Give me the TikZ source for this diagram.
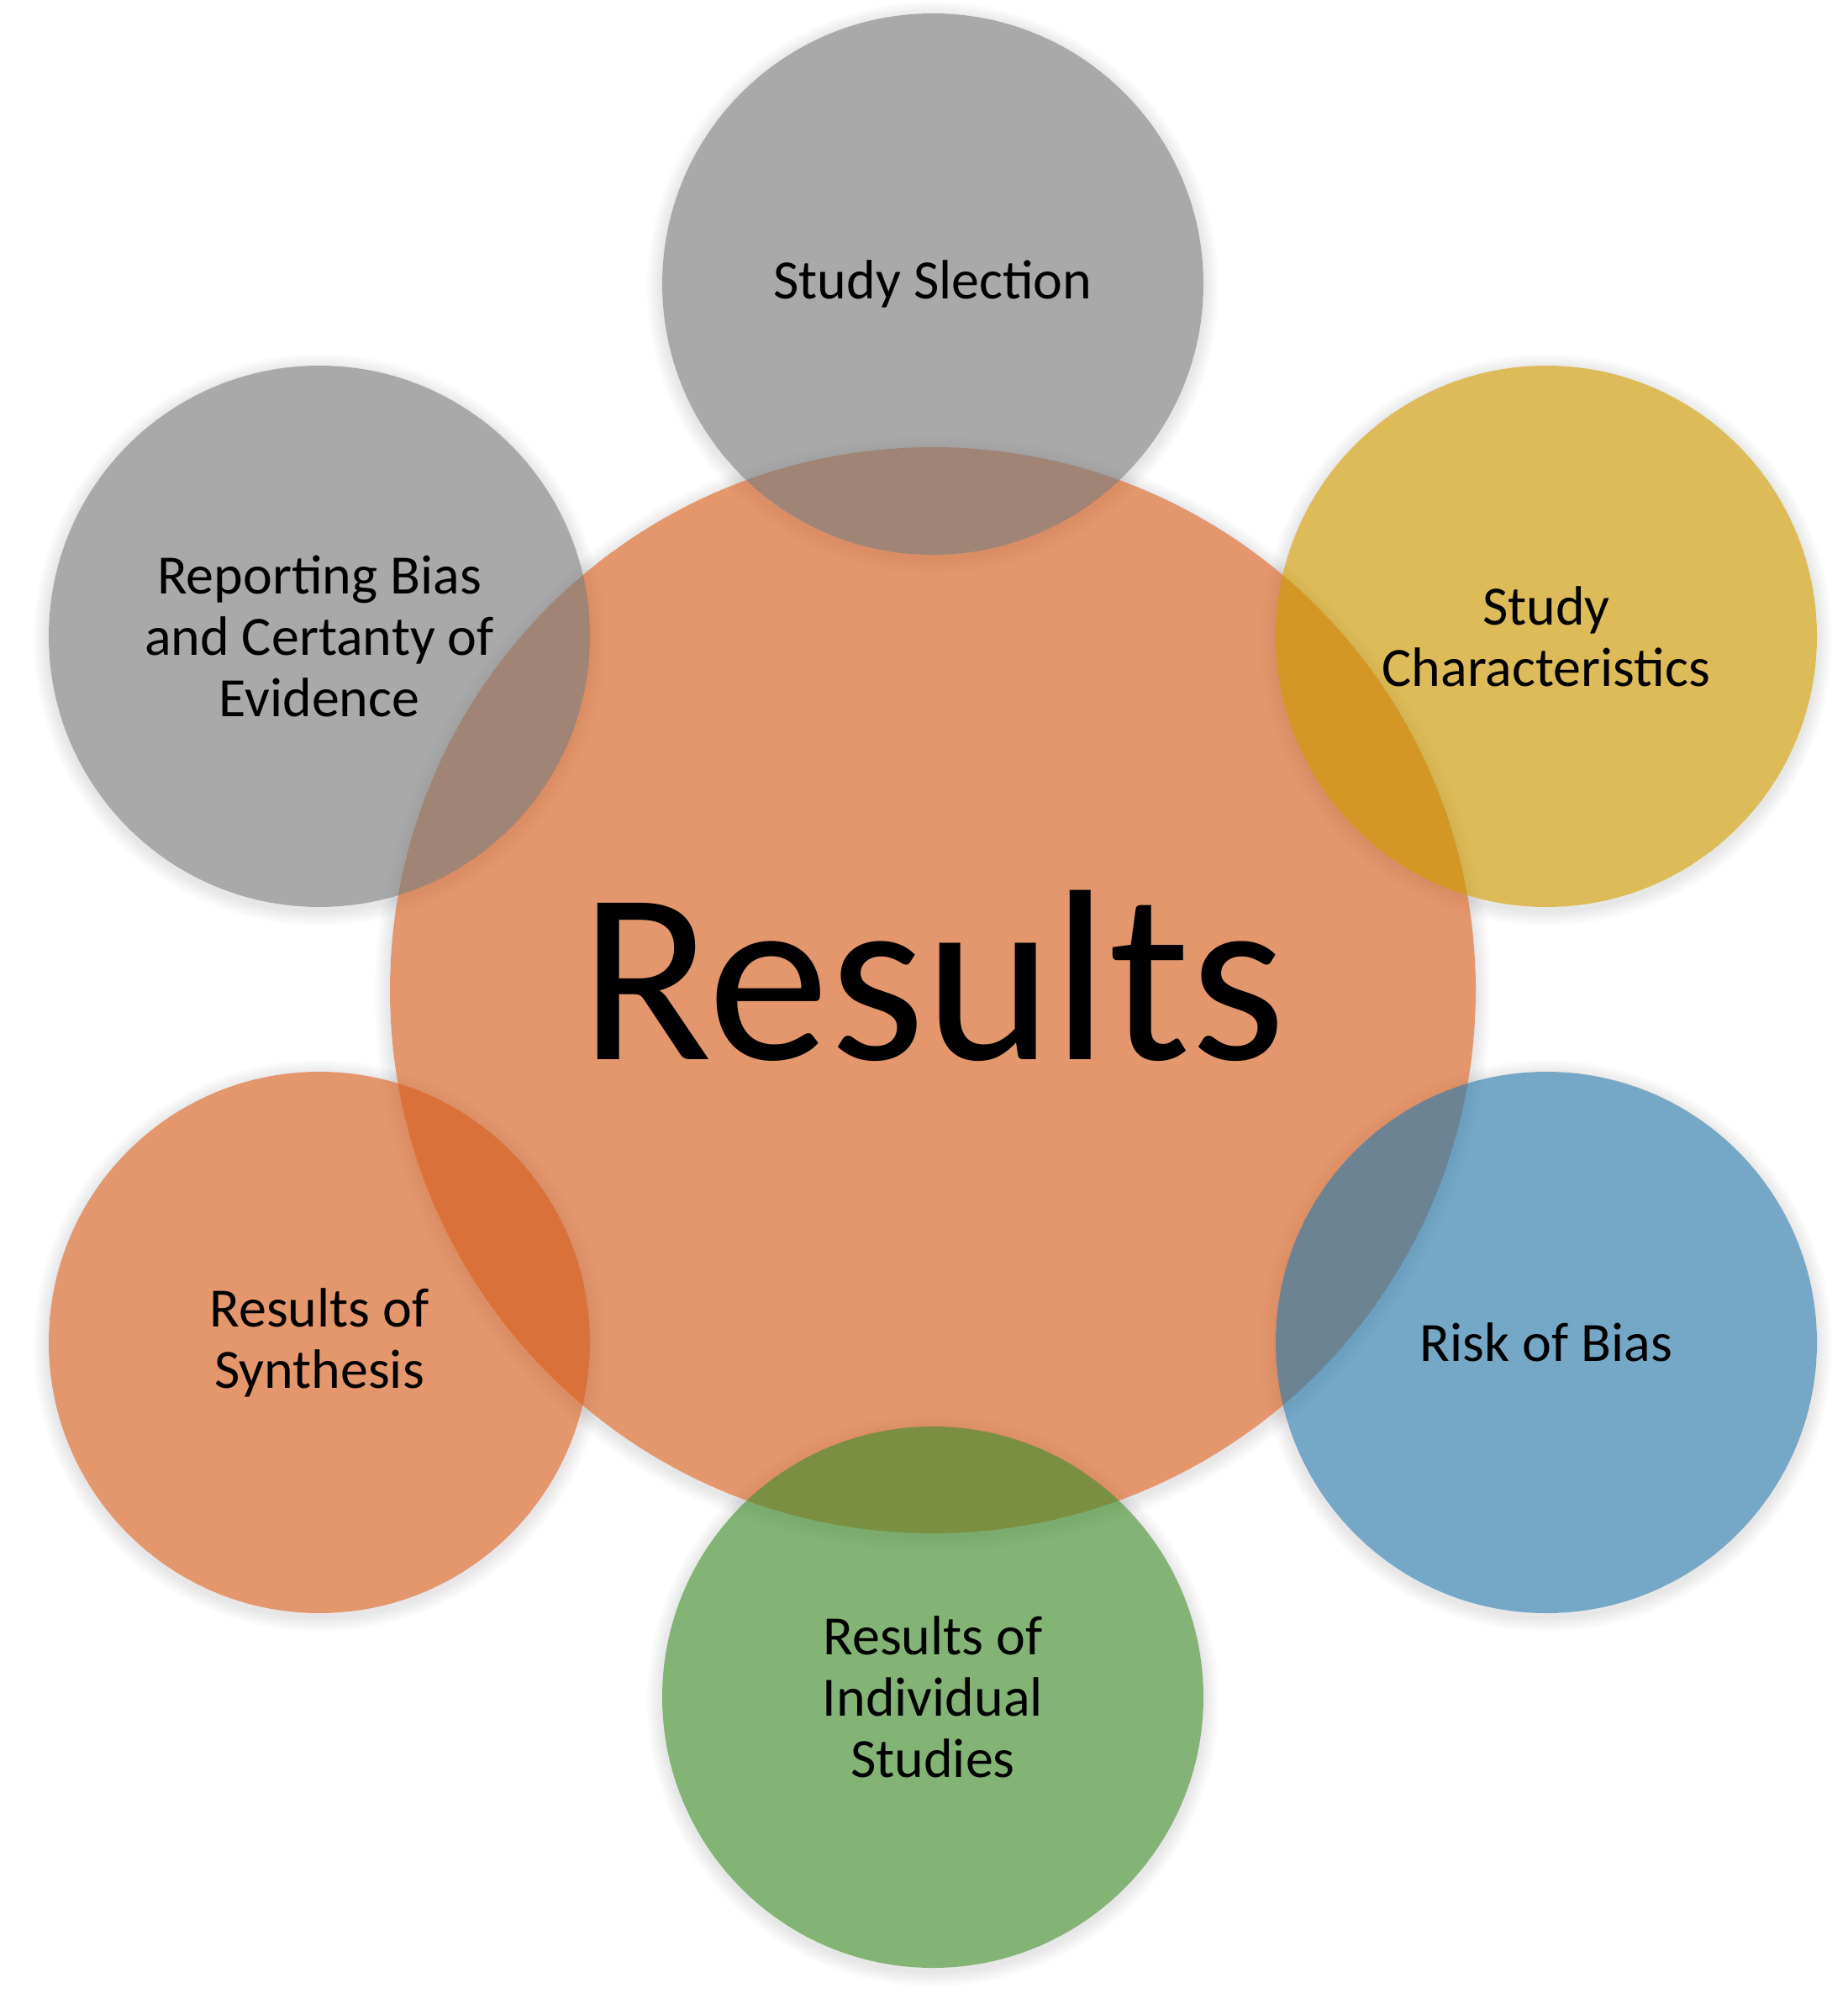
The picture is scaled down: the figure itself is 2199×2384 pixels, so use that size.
\documentclass[tikz,border=0pt]{standalone}
\usepackage{fontspec}
\setmainfont{Carlito}
\usetikzlibrary{backgrounds}
\begin{document}
\begin{tikzpicture}[x=1pt,y=-1pt]
\definecolor{cOrange}{RGB}{214,94,32}
\definecolor{cGray}{RGB}{124,124,124}
\definecolor{cYellow}{RGB}{204,152,0}
\definecolor{cBlue}{RGB}{44,121,170}
\definecolor{cGreen}{RGB}{66,140,44}
\tikzset{
  bubble/.style={circle, minimum size=644pt, inner sep=0pt, fill opacity=0.65, text opacity=1,
    font=\fontsize{66}{73}\selectfont, align=center, text=black},
  hub/.style={circle, minimum size=1292pt, inner sep=0pt, fill opacity=0.65, text opacity=1,
    font=\fontsize{290}{300}\selectfont, text=black, text depth=36pt},
  halo/.style={black, fill opacity=0.016, even odd rule}
}
\useasboundingbox (0,0) rectangle (2199,2384);
\node[hub, fill=cOrange] (results) at (1110,1178) {Results};
\node[bubble, fill=cGray] (selection) at (1110,338) {Study Slection};
\node[bubble, fill=cYellow] (characteristics) at (1840,757) {Study\\Characteristics};
\node[bubble, fill=cBlue] (risk) at (1840,1597) {Risk of Bias};
\node[bubble, fill=cGreen] (individual) at (1110,2019) {Results of\\Individual\\Studies};
\node[bubble, fill=cOrange] (synthesis) at (380,1597) {Results of\\Synthesis};
\node[bubble, fill=cGray] (reporting) at (380,757) {Reporting Bias\\and Certanty of\\Evidence};
\begin{scope}[on background layer]
  \fill[white] (0,0) rectangle (2199,2384);
  \foreach \n/\r in {results/646, selection/322, characteristics/322, risk/322,
                     individual/322, synthesis/322, reporting/322} {
    \foreach \k in {3,6,9,12,15,18} {
      \fill[halo] ([yshift=-4pt]\n.center) circle[radius=\r pt+\k pt]
                  (\n.center) circle[radius=\r pt];
    }
  }
\end{scope}
\end{tikzpicture}
\end{document}
